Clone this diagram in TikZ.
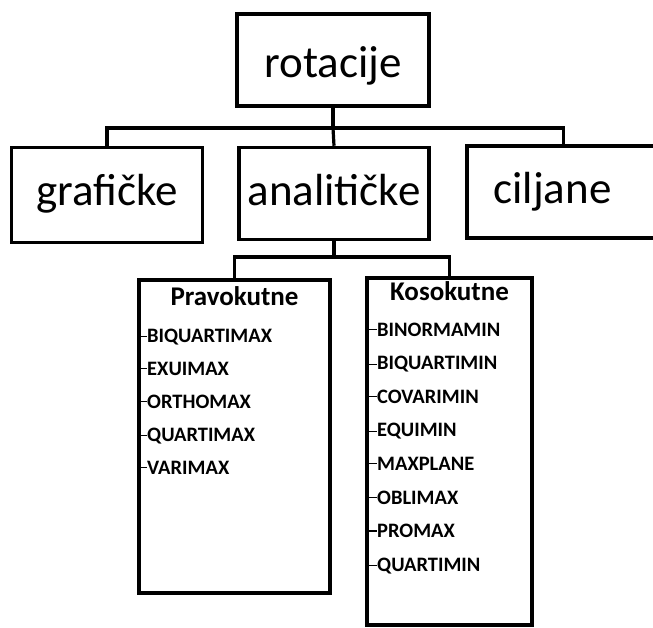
\documentclass[tikz,border=0pt]{standalone}
\usepackage{fontspec}
\setmainfont{Carlito}
\begin{document}
\begin{tikzpicture}[x=1pt,y=-1pt,
  box/.style={draw=black,line width=3.5pt,rectangle,inner sep=0pt,font=\fontsize{45}{50}\selectfont},
  conn/.style={draw=black,line width=3.2pt},
  hdr/.style={anchor=base,font=\fontsize{27}{30}\selectfont\bfseries,inner sep=0pt},
  itm/.style={anchor=base west,font=\fontsize{20.5}{24}\selectfont\bfseries,inner sep=0pt},
  tick/.style={draw=black,line width=1.2pt}]
\useasboundingbox (0,0) rectangle (653,627);
\fill[white] (0,0) rectangle (653,627);

\node[box,minimum width=192pt,minimum height=92pt,text height=44pt,text depth=10pt] (top) at (333,60) {rotacije};
\node[box,minimum width=191pt,minimum height=95pt,text height=32pt,text depth=12pt] (graf) at (107,195) {grafi\v{c}ke};
\node[box,minimum width=190pt,minimum height=92pt,text height=35pt,text depth=12pt] (anal) at (334,193.5) {analiti\v{c}ke};
\node[box,minimum width=193pt,minimum height=92pt,text height=35pt,text depth=12pt] (cilj) at (563.5,192) {\hspace*{-22pt}ciljane};

\coordinate (bar1) at (333,128);
\draw[conn] (top.south) -- (top.south |- bar1);
\draw[conn] (graf.north) |- (bar1) -| (cilj.north);
\draw[conn] (top.south |- bar1) -- (anal.north);

\node[draw=black,line width=3.5pt,rectangle,minimum width=191pt,minimum height=313pt,inner sep=0pt] (pravo) at (234.5,436.5) {};
\node[draw=black,line width=3.5pt,rectangle,minimum width=165pt,minimum height=347pt,inner sep=0pt] (koso) at (449.5,451.5) {};

\coordinate (bar2) at (334,257);
\draw[conn] (anal.south) -- (anal.south |- bar2);
\draw[conn] (pravo.north) |- (bar2) -| (koso.north);

\node[hdr] (ph) at (234.5,305) {Pravokutne};
\node[hdr] (kh) at (449.5,300) {Kosokutne};

\foreach \t [count=\i] in {BIQUARTIMAX,EXUIMAX,ORTHOMAX,QUARTIMAX,VARIMAX}{
  \node[itm] (p\i) at (147,309+33*\i) {\t};
  \draw[tick] (pravo.west |- p\i.west) -- (p\i.west);
}
\foreach \t [count=\i] in {BINORMAMIN,BIQUARTIMIN,COVARIMIN,EQUIMIN,MAXPLANE,OBLIMAX,PROMAX,QUARTIMIN}{
  \node[itm] (k\i) at (377,302.5+33.6*\i) {\t};
  \draw[tick] (koso.west |- k\i.west) -- (k\i.west);
}
\end{tikzpicture}
\end{document}
